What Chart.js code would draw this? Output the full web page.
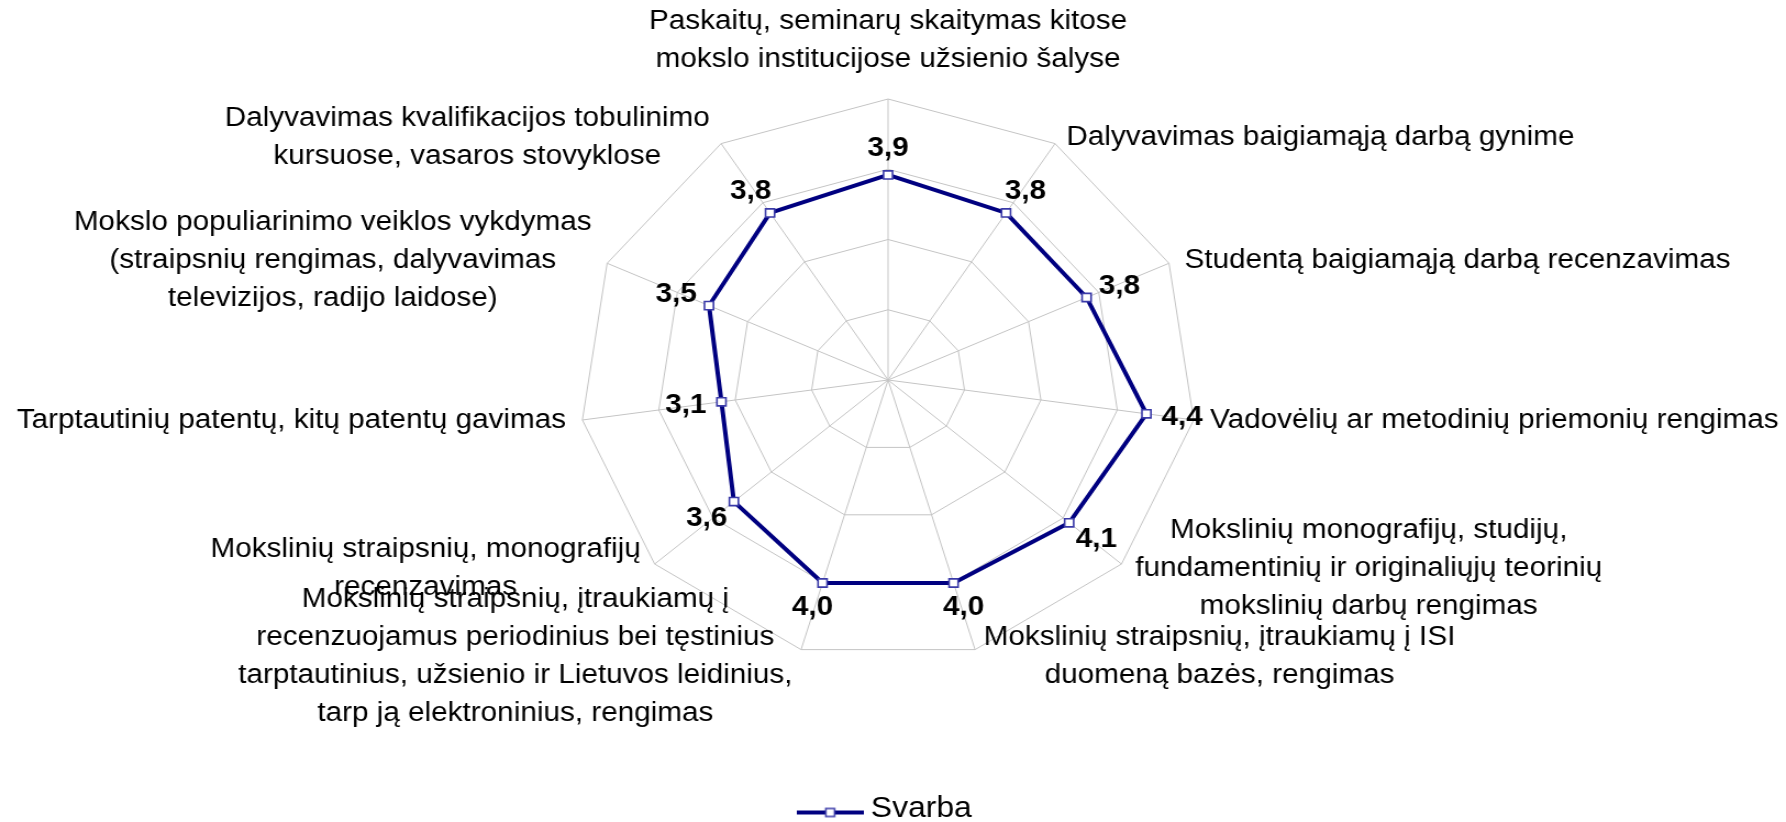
<!DOCTYPE html>
<html>
<head>
<meta charset="utf-8">
<script src="https://cdn.jsdelivr.net/npm/chart.js@4.4.0/dist/chart.umd.min.js"></script>
<style>
  html, body { margin: 0; padding: 0; background: #fff; }
  canvas { display: block; }
</style>
</head>
<body>
<!-- the reference is stretched horizontally (~1.1x), so the canvas is drawn narrower and widened by css -->
<canvas id="radar" width="1625" height="822" style="width:1786px;height:822px"></canvas>
<script>
const categories = [
  ['Paskaitų, seminarų skaitymas kitose', 'mokslo institucijose užsienio šalyse'],
  ['Dalyvavimas baigiamąją darbą gynime'],
  ['Studentą baigiamąją darbą recenzavimas'],
  ['Vadovėlių ar metodinių priemonių rengimas'],
  ['Mokslinių monografijų, studijų,', 'fundamentinių ir originaliųjų teorinių', 'mokslinių darbų rengimas'],
  ['Mokslinių straipsnių, įtraukiamų į ISI', 'duomeną bazės, rengimas'],
  ['Mokslinių straipsnių, įtraukiamų į', 'recenzuojamus periodinius bei tęstinius', 'tarptautinius, užsienio ir Lietuvos leidinius,', 'tarp ją elektroninius, rengimas'],
  ['Mokslinių straipsnių, monografijų', 'recenzavimas'],
  ['Tarptautinių patentų, kitų patentų gavimas'],
  ['Mokslo populiarinimo veiklos vykdymas', '(straipsnių rengimas, dalyvavimas', 'televizijos, radijo laidose)'],
  ['Dalyvavimas kvalifikacijos tobulinimo', 'kursuose, vasaros stovyklose']
];
const svarba = [3.9, 3.8, 3.8, 4.4, 4.1, 4.0, 4.0, 3.6, 3.1, 3.5, 3.8];
const seriesName = 'Svarba';

const scaleMin = 0.74;
const scaleMax = 5.07;
const ringCount = 4;

const family = '"Liberation Sans", Arial, sans-serif';
const labelFont = '27px ' + family;
const valueFont = 'bold 27px ' + family;
const lineHeight = 38;

// excel style legend sample: line with square marker in the middle
// (drawn a little below the text middle, like the original)
const legendMark = document.createElement('canvas');
legendMark.width = 61;
legendMark.height = 20;
{
  const c = legendMark.getContext('2d');
  c.strokeStyle = '#000080';
  c.lineWidth = 4;
  c.beginPath();
  c.moveTo(0, 14);
  c.lineTo(61, 14);
  c.stroke();
  c.fillStyle = '#ffffff';
  c.fillRect(26.5, 10, 8, 8);
  c.strokeStyle = '#3a3aa8';
  c.lineWidth = 1.5;
  c.strokeRect(26.5, 10, 8, 8);
}

const radarLabels = {
  id: 'radarLabels',
  afterDatasetsDraw(chart) {
    const scale = chart.scales.r;
    const ctx = chart.ctx;
    const R = scale.drawingArea;
    ctx.save();
    ctx.fillStyle = '#000';
    ctx.textBaseline = 'middle';
    ctx.textAlign = 'center';

    // category names round the outside
    ctx.font = labelFont;
    categories.forEach((lines, i) => {
      const p = scale.getPointPosition(i, R);
      const ux = Math.cos(p.angle), uy = Math.sin(p.angle);
      const w = Math.max(...lines.map(l => ctx.measureText(l).width));
      const h = lines.length * lineHeight;
      let cx, top;
      if (Math.abs(ux) < 0.01) {
        cx = p.x;
        top = p.y - 20 - h;
      } else {
        const dx = 5 + 10 * Math.abs(ux);
        cx = ux > 0 ? p.x + dx + w / 2 : p.x - dx - w / 2;
        top = p.y + 7 * uy - h / 2;
      }
      lines.forEach((l, k) => ctx.fillText(l, cx, top + lineHeight * (k + 0.5)));
    });

    // value labels next to the points
    ctx.font = valueFont;
    chart.getDatasetMeta(0).data.forEach((pt, i) => {
      const dir = scale.getPointPosition(i, 1);
      const ux = Math.cos(dir.angle), uy = Math.sin(dir.angle);
      const text = svarba[i].toFixed(1).replace('.', ',');
      const hw = ctx.measureText(text).width / 2;
      ctx.fillText(text, pt.x + ux * (14 + hw), pt.y + uy * (14 + 12));
    });
    ctx.restore();
  }
};

new Chart(document.getElementById('radar'), {
  type: 'radar',
  data: {
    labels: categories,
    datasets: [{
      label: seriesName,
      data: svarba,
      fill: false,
      borderColor: '#000080',
      borderWidth: 4,
      pointStyle: 'rect',
      pointRadius: 5.8,
      pointBorderWidth: 1.6,
      pointBorderColor: '#3a3aa8',
      pointBackgroundColor: '#ffffff'
    }]
  },
  options: {
    responsive: false,
    devicePixelRatio: 1,
    animation: false,
    events: [],
    layout: { padding: { left: 0, right: 8, top: 99, bottom: -11 } },
    scales: {
      r: {
        min: scaleMin,
        max: scaleMax,
        startAngle: 0,
        afterBuildTicks(scale) {
          scale.ticks = [];
          for (let k = 0; k <= ringCount; k++) {
            scale.ticks.push({ value: scaleMin + k * (scaleMax - scaleMin) / ringCount });
          }
        },
        ticks: { display: false },
        grid: { color: '#c4c4c4', lineWidth: 1 },
        angleLines: { color: '#c4c4c4', lineWidth: 1 },
        pointLabels: { display: false }
      }
    },
    plugins: {
      legend: {
        position: 'bottom',
        labels: {
          usePointStyle: true,
          pointStyle: legendMark,
          pointStyleWidth: 45,
          padding: 133,
          color: '#000',
          font: { family: family, size: 29 }
        }
      },
      tooltip: { enabled: false }
    }
  },
  plugins: [radarLabels]
});
</script>
</body>
</html>
